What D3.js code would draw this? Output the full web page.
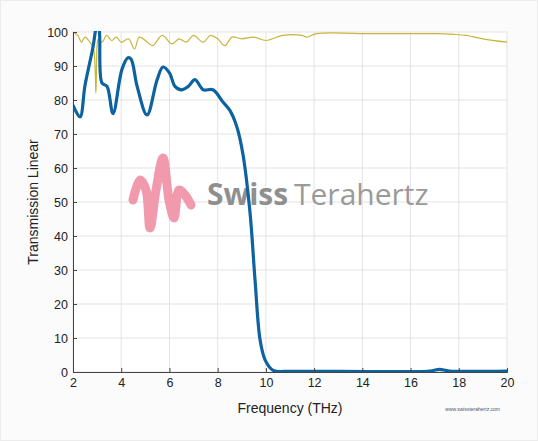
<!DOCTYPE html>
<html><head><meta charset="utf-8">
<script src="https://cdn.jsdelivr.net/npm/d3@7"></script>
<style>body{margin:0;background:#fff}svg{display:block}</style>
</head><body>
<script>
const blueX=[2,2.29,2.5,2.83,2.95,3.0,3.08,3.2,3.41,3.66,4.03,4.28,4.41,4.66,5.07,5.49,5.73,6.0,6.23,6.5,6.78,7.06,7.4,7.8,8.22,8.5,8.8,9.05,9.34,9.55,9.76,9.97,10.3,11,13,16.8,17.2,17.6,20];
const blueY=[78.5,75,84.4,95.6,101,102,101,85,84,76,89,92.4,92,84,75.6,86,89.7,88,84,83,84,86,83,83,79.4,77,72,64,47,27,9.4,3.5,0.5,0.2,0.2,0.3,0.8,0.3,0.3];
const yelX=[2,2.2,2.35,2.5,2.7,2.85,2.95,3.0,3.05,3.2,3.4,3.6,3.8,4.0,4.3,4.55,4.75,5.0,5.3,5.7,6.1,6.4,6.7,7.0,7.4,7.7,8.0,8.3,8.6,9.0,9.5,10.0,10.7,11.5,11.7,12.1,14.5,17.0,17.8,18.3,19.0,20];
const yelY=[100,99,97,98.5,97,95,82,96,98,97,99,97.5,98.5,97,98,95,98.5,97.5,96,99,96.5,98,97,99,97,99,98,96,98.5,98,98.5,97.5,99,99,98.5,99.5,99.5,99.5,99.3,99,98,97];
const xTicks=[2,4,6,8,10,12,14,16,18,20];
const yTicks=[0,10,20,30,40,50,60,70,80,90,100];

const W=538,H=441;
const svg=d3.select("body").append("svg").attr("width",W).attr("height",H);
svg.append("rect").attr("width",W).attr("height",H).attr("fill","#fbfbfb");
svg.append("rect").attr("x",0.5).attr("y",0.5).attr("width",W-1).attr("height",H-1).attr("fill","none").attr("stroke","#ececec");
const x=d3.scaleLinear().domain([2,20]).range([73,507]);
const y=d3.scaleLinear().domain([0,100]).range([372,32]);
svg.append("rect").attr("x",73).attr("y",32).attr("width",434).attr("height",340).attr("fill","#fff");
const g=svg.append("g");
g.selectAll("line.vg").data(xTicks).join("line").attr("x1",d=>x(d)).attr("x2",d=>x(d)).attr("y1",32).attr("y2",372).attr("stroke","#e3e3e3");
g.selectAll("line.hg").data(yTicks).join("line").attr("x1",73).attr("x2",507).attr("y1",d=>y(d)).attr("y2",d=>y(d)).attr("stroke","#e3e3e3");

const wm=svg.append("g");
const logo=d3.line().curve(d3.curveCatmullRom);
wm.append("path").attr("d",logo([[133,200],[140,180],[146,190],[150,228],[156,190],[163,158],[169,200],[174,218],[179,190],[185,195],[191,205]])).attr("fill","none").attr("stroke","#ef8fa5").attr("stroke-width",9).attr("stroke-linecap","round").attr("opacity",0.9);
wm.append("text").attr("x",207).attr("y",205).attr("font-family","Open Sans, sans-serif").attr("font-size",30).attr("font-weight",700).attr("fill","#8f8f8f").text("Swiss");
wm.append("text").attr("x",294).attr("y",205).attr("font-family","Open Sans, sans-serif").attr("font-size",30).attr("fill","#9a9a9a").text("Terahertz");

svg.append("defs").append("clipPath").attr("id","c").append("rect").attr("x",73).attr("y",31).attr("width",434).attr("height",342);
const line=d3.line().x(d=>x(d[0])).y(d=>y(d[1])).curve(d3.curveCatmullRom);
svg.append("path").attr("clip-path","url(#c)").attr("d",line(yelX.map((v,i)=>[v,yelY[i]]))).attr("fill","none").attr("stroke","#c9b53a").attr("stroke-width",1.2);
svg.append("path").attr("clip-path","url(#c)").attr("d",line(blueX.map((v,i)=>[v,blueY[i]]))).attr("fill","none").attr("stroke","#0d62a0").attr("stroke-width",3.2).attr("stroke-linejoin","round");

const xa=svg.append("g").attr("transform","translate(0,372)").call(d3.axisBottom(x).tickValues(xTicks).tickSize(-4).tickPadding(6));
const ya=svg.append("g").attr("transform","translate(73,0)").call(d3.axisLeft(y).tickValues(yTicks).tickSize(-4).tickPadding(5));
[xa,ya].forEach(a=>{a.selectAll("text").attr("font-family","Liberation Sans, Arial, sans-serif").attr("font-size",12.5).attr("fill","#222");a.selectAll("line,path").attr("stroke","#444");});
svg.append("text").attr("x",290).attr("y",413).attr("text-anchor","middle").attr("font-family","Liberation Sans, Arial, sans-serif").attr("font-size",14).attr("fill","#222").text("Frequency (THz)");
svg.append("text").attr("transform","translate(38,202) rotate(-90)").attr("text-anchor","middle").attr("font-family","Liberation Sans, Arial, sans-serif").attr("font-size",14).attr("fill","#222").text("Transmission Linear");
svg.append("text").attr("x",500).attr("y",411).attr("text-anchor","end").attr("font-family","Liberation Sans, Arial, sans-serif").attr("font-size",5).attr("fill","#555").text("www.swissterahertz.com");
</script>
</body></html>
